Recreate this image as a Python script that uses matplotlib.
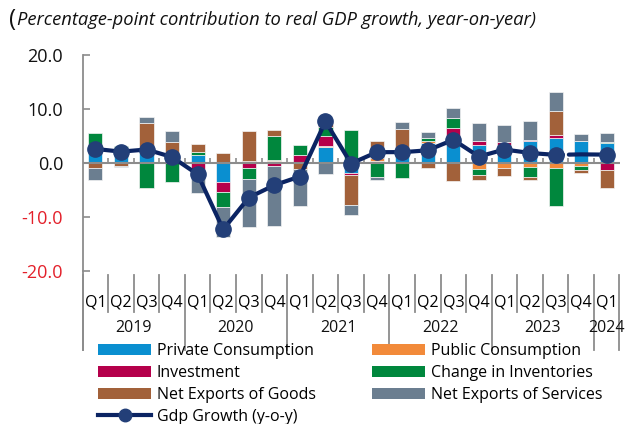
import matplotlib
matplotlib.use("Agg")
import matplotlib.pyplot as plt
from matplotlib.lines import Line2D
from matplotlib.patches import Patch
import matplotlib.transforms as mtransforms
import numpy as np

plt.rcParams['font.family'] = ['Open Sans', 'DejaVu Sans']

quarters = ["Q1", "Q2", "Q3", "Q4"] * 5 + ["Q1"]
years = ["2019", "2020", "2021", "2022", "2023", "2024"]
year_counts = [4, 4, 4, 4, 4, 1]

private_cons = [1.9, 2.8, 2.3, 1.0, 1.4, -3.6, 0.0, 0.3, 0.0, 3.0, -1.8, 0.3, 1.5, 3.7, 5.05, 3.4, 3.4, 4.1, 4.6, 4.0, 3.7]
public_cons = [0.0, 0.0, 0.0, 0.0, 0.0, 0.0, 0.35, 0.3, 0.0, 0.2, 0.0, 0.6, 0.0, 0.4, 0.0, -1.2, -1.0, -0.75, -1.0, -0.5, 0.0]
investment = [0.0, 0.0, 0.0, 0.0, -1.2, -1.8, -0.85, -0.6, 1.5, 1.8, -0.35, 0.0, 0.0, 0.0, 1.5, 0.75, 0.4, 0.2, 0.5, 0.0, -1.3]
inventories = [3.6, 0.4, -4.7, -3.6, 0.6, -2.75, -2.1, 4.4, 1.8, 1.6, 6.1, -2.5, -2.8, 0.45, 1.75, -1.1, 0.0, -1.75, -7.0, -0.8, 0.1]
nx_goods = [-1.0, -0.6, 5.1, 2.8, 1.5, 1.9, 5.6, 1.1, -1.2, 0.8, -5.6, 3.1, 4.8, -1.0, -3.3, -0.85, -1.4, -0.6, 4.6, -0.6, -3.35]
nx_services = [-2.2, -0.2, 1.1, 2.2, -4.3, -5.6, -8.9, -11.0, -6.7, -2.1, -1.85, -0.6, 1.35, 1.1, 1.9, 3.25, 3.25, 3.4, 3.5, 1.35, 1.7]
gdp_growth = [2.6, 2.1, 2.5, 1.1, -2.1, -12.3, -6.4, -4.1, -2.5, 7.7, -0.1, 2.0, 2.0, 2.35, 4.3, 1.2, 2.5, 1.85, 1.5, 1.6, 1.55]

series = [
    ("Private Consumption", private_cons, "#0A8FD0"),
    ("Public Consumption", public_cons, "#F28A3A"),
    ("Investment", investment, "#B5004B"),
    ("Change in Inventories", inventories, "#00873D"),
    ("Net Exports of Goods", nx_goods, "#A2613A"),
    ("Net Exports of Services", nx_services, "#6B7E90"),
]

fig = plt.figure(figsize=(6.31, 4.24), dpi=100)
ax = fig.add_axes([82.6 / 631, (424 - 271) / 424, (619.5 - 82.6) / 631, (271 - 55) / 424])

n = len(quarters)
x = np.arange(n)
pos_base = np.zeros(n)
neg_base = np.zeros(n)
for name, vals, col in series:
    v = np.array(vals)
    base = np.where(v >= 0, pos_base, neg_base)
    ax.bar(x, v, bottom=base, width=0.55, color=col, edgecolor="#f4f4f4", linewidth=0.5, zorder=2)
    pos_base = pos_base + np.where(v >= 0, v, 0)
    neg_base = neg_base + np.where(v < 0, v, 0)

grey = "#8C8C8C"
ax.axhline(0, color=grey, lw=1.5, zorder=3)
bounds = np.arange(n + 1) - 0.5
ax.vlines(bounds[1:-1], 0, 0.9, color=grey, lw=1.2, zorder=3)

# GDP line with a small break between Q3 2023 and Q4 2023
g = np.array(gdp_growth, dtype=float)
line_col = "#0B2463"
mk_col = "#233F78"
xa = np.linspace(0, 18.29, 400)
xb = np.linspace(18.52, 20, 100)
ax.plot(xa, np.interp(xa, x, g), color=line_col, lw=3.0, zorder=4, solid_capstyle="round")
ax.plot(xb, np.interp(xb, x, g), color=line_col, lw=3.0, zorder=4, solid_capstyle="round")
mask = np.ones(n, dtype=bool)
mask[19] = False
ax.plot(x[mask], g[mask], linestyle="none", marker="o", ms=11, color=mk_col,
        markeredgecolor=mk_col, zorder=5)

ax.set_xlim(-0.5, n - 0.5)
ax.set_ylim(-20, 20)
for s in ["top", "right", "bottom"]:
    ax.spines[s].set_visible(False)
ax.spines["left"].set_color(grey)
ax.spines["left"].set_linewidth(1.3)

yt = [-20, -10, 0, 10, 20]
ax.set_yticks(yt)
ax.set_yticklabels([f"{v:.1f}" for v in yt], fontsize=13)
for lab, v in zip(ax.get_yticklabels(), yt):
    lab.set_color("#E3202A" if v < 0 else "#111111")
ax.tick_params(axis="y", direction="in", length=5, width=1.2, color=grey, pad=14)

ax.set_xticks(x)
ax.set_xticklabels(quarters, fontsize=11.5)
ax.tick_params(axis="x", length=0, pad=17)

trans = mtransforms.blended_transform_factory(ax.transData, ax.transAxes)
# quarter separators (short) and year separators (long)
year_starts = np.concatenate([[0], np.cumsum(year_counts)]) - 0.5
for b in bounds:
    is_year = np.any(np.isclose(b, year_starts))
    bottom = -0.365 if is_year else -0.19
    ax.add_line(Line2D([b, b], [-0.02, bottom], transform=trans, color=grey, lw=1.3, clip_on=False))
ax.add_line(Line2D([-0.5, -0.5], [0, -0.365], transform=trans, color=grey, lw=1.3, clip_on=False))

centers = [(year_starts[i] + year_starts[i + 1]) / 2 for i in range(len(years))]
for yr, c in zip(years, centers):
    ax.text(c, -0.265, yr, transform=trans, ha="center", va="center", fontsize=11.5, color="#111111")

fig.text(9 / 631, 1 - 20 / 424, "(", fontsize=17, ha="left", va="center", color="#111111")
fig.text(17 / 631, 1 - 20 / 424, "Percentage-point contribution to real GDP growth, year-on-year)",
         fontsize=13.2, style="italic", ha="left", va="center", color="#111111")

handles = [Patch(facecolor=c, edgecolor="none", label=nm) for nm, _, c in series]
gdp_handle = Line2D([], [], color=line_col, lw=3, marker="o", ms=9, markerfacecolor=mk_col,
                    markeredgecolor=mk_col, label="Gdp Growth (y-o-y)")
order = [handles[0], handles[2], handles[4], gdp_handle, handles[1], handles[3], handles[5]]
leg = fig.legend(handles=order, labels=[h.get_label() for h in order], ncol=2,
                 loc="upper left", bbox_to_anchor=(92 / 631, 1 - 337 / 424), frameon=False,
                 fontsize=11.5, handlelength=3.3, handletextpad=0.35, columnspacing=3.55,
                 labelspacing=0.36, borderaxespad=0)

fig.savefig("out.png", dpi=100)
